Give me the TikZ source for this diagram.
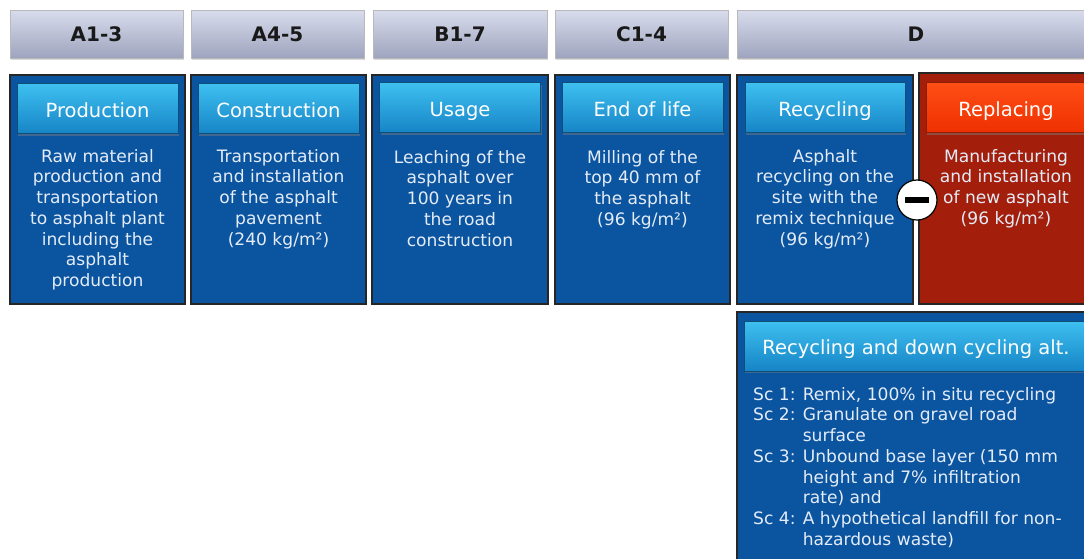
\documentclass[tikz,border=0pt]{standalone}
\usepackage{fontspec}
\setmainfont{DejaVu Sans}
\usepackage{xcolor}
\usepackage{tikz}
\usetikzlibrary{shadows}

\definecolor{boxblue}{RGB}{11,84,160}
\definecolor{boxred}{RGB}{163,31,12}
\definecolor{btntop}{RGB}{62,192,240}
\definecolor{btnbot}{RGB}{22,132,198}
\definecolor{redtop}{RGB}{255,78,22}
\definecolor{redbot}{RGB}{238,48,0}
\definecolor{hdtop}{RGB}{216,220,236}
\definecolor{hdbot}{RGB}{158,164,190}
\definecolor{txtlight}{RGB}{228,236,247}

\begin{document}
\begin{tikzpicture}[x=1pt,y=-1pt,
  hdr/.style={draw=gray!55, top color=hdtop, bottom color=hdbot, minimum height=48pt,
    inner sep=0pt, text=black!90, font=\fontsize{20}{22}\selectfont\bfseries,
    drop shadow={shadow xshift=1pt, shadow yshift=-2pt, opacity=0.3}},
  colbox/.style={draw=black!85, line width=1.2pt, fill=boxblue, inner sep=0pt},
  btn/.style={draw=btnbot!60!black, top color=btntop, bottom color=btnbot,
    minimum height=50pt, inner sep=0pt, text height=17pt, text depth=0pt,
    text=white, font=\fontsize{19.5}{22}\selectfont,
    drop shadow={shadow xshift=1pt, shadow yshift=-2pt, opacity=0.45}},
  body/.style={text=txtlight, align=center, inner sep=0pt, font=\fontsize{17.1}{20.7}\selectfont},
  minus/.style={circle, draw=black, line width=1.2pt, fill=white, minimum size=40pt, inner sep=0pt}]

  \clip (0,0) rectangle (1084,558);

  % Stage headers
  \foreach \n/\x/\w/\lbl in {a/96.5/173/A1-3, b/277.5/173/A4-5, c/460/174/B1-7, d/641.5/173/C1-4, e/916/358/D}
    \node[hdr, minimum width=\w pt] (hd\n) at (\x,34) {\lbl};

  % Columns
  \node[colbox, minimum width=175pt, minimum height=229pt] (prod) at (97.5,189.5) {};
  \node[colbox, minimum width=175pt, minimum height=229pt] (constr) at (278.5,189.5) {};
  \node[colbox, minimum width=176pt, minimum height=229pt] (usage) at (460,189.5) {};
  \node[colbox, minimum width=175pt, minimum height=229pt] (eol) at (642.5,189.5) {};
  \node[colbox, minimum width=176pt, minimum height=229pt] (recyc) at (825,189.5) {};
  \node[colbox, fill=boxred, minimum width=174pt, minimum height=231pt] (repl) at (1006,188.5) {};
  \node[colbox, minimum width=363pt, minimum height=253pt] (alt) at (918.5,438.5) {};

  % Titles
  \node[btn, minimum width=161pt, anchor=north] (tprod) at ([yshift=-9pt]prod.north) {Production};
  \node[btn, minimum width=161pt, anchor=north] (tconstr) at ([yshift=-9pt]constr.north) {Construction};
  \node[btn, minimum width=161pt, anchor=north] (tusage) at ([yshift=-8pt]usage.north) {Usage};
  \node[btn, minimum width=161pt, anchor=north] (teol) at ([yshift=-8pt]eol.north) {End of life};
  \node[btn, minimum width=160pt, anchor=north] (trecyc) at ([yshift=-8pt]recyc.north) {Recycling};
  \node[btn, draw=redbot!60!black, top color=redtop, bottom color=redbot, minimum width=160pt, anchor=north]
    (trepl) at ([yshift=-10pt]repl.north) {Replacing};
  \node[btn, minimum width=344pt] (talt) at (916,346) {Recycling and down cycling alt.};

  % Texts
  \node[body, anchor=north] (xprod) at (97.5,149) {Raw material\\production and\\transportation\\to asphalt plant\\including the\\asphalt\\production};
  \node[body, anchor=north] (xconstr) at (278.5,149) {Transportation\\and installation\\of the asphalt\\pavement\\(240 kg/m²)};
  \node[body, anchor=north] (xusage) at (460,150) {Leaching of the\\asphalt over\\100 years in\\the road\\construction};
  \node[body, anchor=north] (xeol) at (642.5,150) {Milling of the\\top 40 mm of\\the asphalt\\(96 kg/m²)};
  \node[body, anchor=north] (xrecyc) at (825,149) {Asphalt\\recycling on the\\site with the\\remix technique\\(96 kg/m²)};
  \node[body, anchor=north] (xrepl) at (1006,149) {Manufacturing\\and installation\\of new asphalt\\(96 kg/m²)};
  \node[body, align=left, anchor=north west] (xalt) at (753,387)
    {Sc 1: Remix, 100\% in situ recycling\\
     Sc 2: Granulate on gravel road\\
     \phantom{Sc 2: }surface\\
     Sc 3: Unbound base layer (150 mm\\
     \phantom{Sc 3: }height and 7\% infiltration\\
     \phantom{Sc 3: }rate) and\\
     Sc 4: A hypothetical landfill for non-\\
     \phantom{Sc 4: }hazardous waste)};

  % Minus sign
  \node[minus] (mn) at (917,200) {\rule{24pt}{6pt}};
\end{tikzpicture}
\end{document}
